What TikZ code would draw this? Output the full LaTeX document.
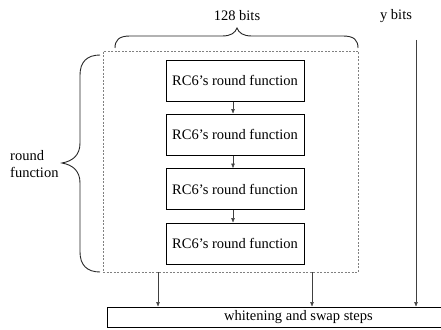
\documentclass[tikz,border=0pt]{standalone}
\usepackage{fontspec}
\setmainfont{Liberation Serif}
\usetikzlibrary{arrows.meta}
\begin{document}
\begin{tikzpicture}[x=1pt,y=-1pt,
  rbox/.style={draw=black,line width=1pt,minimum width=138pt,minimum height=41pt,inner sep=0pt,
    font=\fontsize{14.5}{17}\selectfont},
  lbl/.style={font=\fontsize{14.5}{17}\selectfont,inner sep=0pt},
  conn/.style={draw=black!75,line width=0.5pt,-{Triangle[length=4.5pt,width=3.5pt]}},
  brace/.style={draw=black!85,line width=0.9pt}]
\useasboundingbox (0,0) rectangle (441,329);
\clip (0,0) rectangle (441,329);
% dashed container
\node[draw=black!50,dash pattern=on 2pt off 1.5pt,line width=0.6pt,minimum width=255pt,minimum height=221pt,inner sep=0pt] (cont) at (230.5,161.5) {};
% round function boxes
\node[rbox] (b1) at (235,80.5) {RC6's round function};
\node[rbox] (b2) at (235,134.5) {RC6's round function};
\node[rbox] (b3) at (235,189) {RC6's round function};
\node[rbox] (b4) at (235,243.5) {RC6's round function};
\draw[conn] ([xshift=-2pt]b1.south) -- ([xshift=-2pt]b2.north);
\draw[conn] ([xshift=-2pt]b2.south) -- ([xshift=-2pt]b3.north);
\draw[conn] ([xshift=-2pt]b3.south) -- ([xshift=-2pt]b4.north);
% bottom box
\node[draw=black,line width=1pt,minimum width=383pt,minimum height=20pt,inner sep=0pt,
  font=\fontsize{14.5}{17}\selectfont] (ws) at (298.5,317) {whitening and swap steps};
% arrows to bottom box
\draw[conn] (cont.south -| 158,0) -- (ws.north -| 158,0);
\draw[conn] (cont.south -| 312,0) -- (ws.north -| 312,0);
\coordinate (ytop) at (416,40);
\draw[conn] (ytop) -- (ws.north -| ytop);
% labels
\node[lbl] (l128) at (237,16) {128 bits};
\node[lbl] (ly) at (396,16) {y bits};
\node[lbl,align=left,anchor=west] (lrf) at (10,164) {round\\function};
% top brace
\draw[brace] (115,48) .. controls (115,40) and (119,36) .. (130,36) -- (222,36)
  .. controls (231,36) and (235,33) .. (237,28)
  .. controls (239,33) and (243,36) .. (252,36) -- (343,36)
  .. controls (354,36) and (358,40) .. (358,48);
% left brace
\draw[brace] (100,55) .. controls (87,55) and (80,62) .. (80,75) -- (80,143)
  .. controls (80,155) and (73,161) .. (62,163)
  .. controls (73,165) and (80,171) .. (80,183) -- (80,252)
  .. controls (80,265) and (87,272) .. (100,272);
\end{tikzpicture}
\end{document}
